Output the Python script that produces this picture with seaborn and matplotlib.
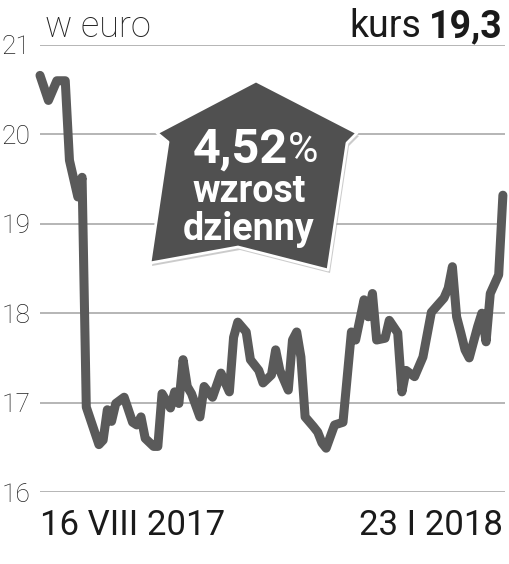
import matplotlib
matplotlib.use("Agg")
import matplotlib.pyplot as plt
from matplotlib.patches import Polygon
import seaborn as sns
import pandas as pd

# trading-day index and EUR price
days = [0, 2, 4, 6, 7, 9, 10, 11, 14, 15, 16, 17, 18, 20, 22, 23, 24, 25, 27, 28,
        29, 31, 32, 33, 34, 35, 36, 38, 39, 41, 43, 45, 46, 47, 49, 50, 52, 53, 55, 56,
        57, 59, 60, 61, 62, 63, 65, 66, 67, 68, 70, 72, 74, 75, 77, 78, 79, 80, 82, 83,
        85, 86, 87, 89, 91, 93, 96, 97, 98, 99, 100, 101, 102, 104, 105, 106, 107, 109, 110]
prices = [20.66, 20.38, 20.60, 20.60, 19.71, 19.30, 19.52, 16.95, 16.53, 16.58,
          16.92, 16.79, 16.99, 17.06, 16.78, 16.75, 16.84, 16.60, 16.51, 16.51,
          17.10, 16.94, 17.12, 16.99, 17.48, 17.18, 17.10, 16.84, 17.18, 17.06,
          17.33, 17.12, 17.73, 17.90, 17.79, 17.48, 17.36, 17.22, 17.31, 17.59,
          17.36, 17.14, 17.70, 17.79, 17.51, 16.84, 16.73, 16.67, 16.55, 16.49,
          16.75, 16.78, 17.79, 17.70, 18.15, 17.96, 18.22, 17.70, 17.72, 17.92,
          17.78, 17.12, 17.36, 17.29, 17.51, 18.01, 18.17, 18.28, 18.52, 17.96,
          17.78, 17.59, 17.50, 17.85, 18.00, 17.68, 18.22, 18.43, 19.32]

y_ticks = [16, 17, 18, 19, 20, 21]
date_labels = ["16 VIII 2017", "23 I 2018"]
title_left = "w euro"
kurs_label = "kurs"
kurs_value = "19,3"
badge_lines = ["4,52", "wzrost", "dzienny"]

sns.set_style("white")
plt.rcParams["font.family"] = ["Roboto", "DejaVu Sans"]

W, H = 509, 564
fig = plt.figure(figsize=(W / 100, H / 100), dpi=100)
ax = fig.add_axes([40 / W, 1 - 492 / H, 465 / W, 447 / H])

df = pd.DataFrame({"day": days, "price": prices})
sns.lineplot(data=df, x="day", y="price", ax=ax, color="#5a5a5a",
             linewidth=6.5, solid_joinstyle="round", solid_capstyle="round")
for line in ax.lines:
    line.set_clip_on(False)

ax.set_xlim(0, 110.5)
ax.set_ylim(16, 21)
ax.set_yticks(y_ticks)
ax.set_yticklabels([str(t) for t in y_ticks], fontsize=19, fontweight="light",
                   color="#222222")
for t in y_ticks:
    ax.axhline(t, color="#b0b0b0", linewidth=1.3, zorder=0)

ax.set_xticks([days[0], days[-1]])
ax.set_xticklabels(date_labels, fontsize=25, color="#1a1a1a")
ax.get_xticklabels()[0].set_ha("left")
ax.get_xticklabels()[1].set_ha("right")
ax.tick_params(axis="both", length=0)
ax.tick_params(axis="y", pad=7)
ax.tick_params(axis="x", pad=12)
ax.set_xlabel("")
ax.set_ylabel("")
for s in ax.spines.values():
    s.set_visible(False)
ax.patch.set_alpha(0)

# header texts
fig.text(45 / W, 1 - 37 / H, title_left, fontsize=26, fontweight="light",
         color="#222222", ha="left", va="baseline")
fig.text(421 / W, 1 - 37 / H, kurs_label, fontsize=27, color="#1a1a1a",
         ha="right", va="baseline")
fig.text(503 / W, 1 - 37 / H, kurs_value, fontsize=27, fontweight="bold",
         color="#1a1a1a", ha="right", va="baseline")

# arrow badge
pts = [(256, 81), (357, 133), (347, 143), (328, 270), (238, 247),
       (150, 263), (168, 142), (157, 133)]
shadow = Polygon([((x + 2) / W, 1 - (y + 3) / H) for x, y in pts],
                 closed=True, transform=fig.transFigure, facecolor="#999999",
                 edgecolor="none", alpha=0.5, zorder=5)
badge = Polygon([(x / W, 1 - y / H) for x, y in pts], closed=True,
                transform=fig.transFigure, facecolor="#505050",
                edgecolor="white", linewidth=2, joinstyle="round", zorder=6)
fig.patches.extend([shadow, badge])

fig.text(288 / W, 1 - 150 / H, badge_lines[0], fontsize=35, fontweight="bold",
         color="white", ha="right", va="center", zorder=7)
fig.text(288 / W, 1 - 150 / H, "%", fontsize=30, color="white",
         ha="left", va="center", zorder=7)
fig.text(249 / W, 1 - 192 / H, badge_lines[1], fontsize=27, fontweight="bold",
         color="white", ha="center", va="center", zorder=7)
fig.text(249 / W, 1 - 229 / H, badge_lines[2], fontsize=27, fontweight="bold",
         color="white", ha="center", va="center", zorder=7)

fig.savefig("out.png", dpi=100)
